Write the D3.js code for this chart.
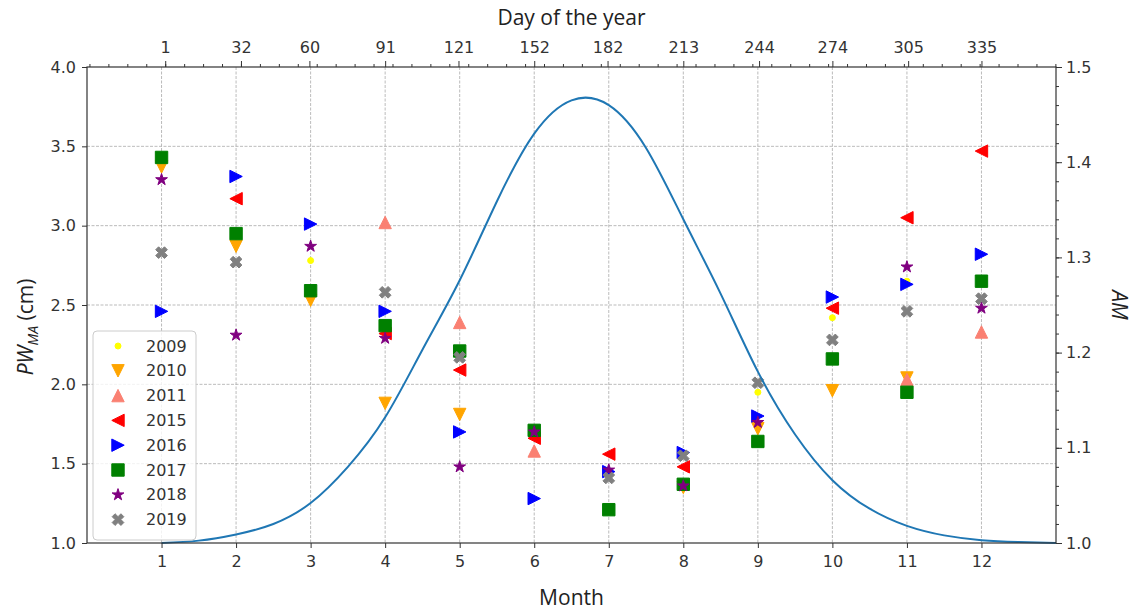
<!DOCTYPE html>
<html>
<head>
<meta charset="utf-8">
<script src="https://cdn.jsdelivr.net/npm/d3@7"></script>
<style>
  html, body { margin: 0; padding: 0; background: #fff; }
  svg { display: block; }
  .tick-label { font-family: "DejaVu Sans", sans-serif; font-size: 16px; fill: #333; }
  .axis-title { font-family: "Open Sans", sans-serif; font-size: 21px; fill: #222; }
</style>
</head>
<body>
<svg id="chart" width="1136" height="611"></svg>
<script>
// Monthly precipitable water (cm) per year; null = no observation
const months = [1, 2, 3, 4, 5, 6, 7, 8, 9, 10, 11, 12];
const years = ["2009", "2010", "2011", "2015", "2016", "2017", "2018", "2019"];
const pw2009 = [null, null, 2.78, null, null, null, null, null, 1.95, 2.42, 2.65, null];
const pw2010 = [3.37, 2.87, 2.53, 1.88, 1.81, null, null, 1.35, 1.72, 1.96, 2.04, null];
const pw2011 = [null, null, null, 3.02, 2.39, 1.58, null, null, null, null, 2.03, 2.33];
const pw2015 = [null, 3.17, null, 2.32, 2.09, 1.66, 1.56, 1.48, null, 2.48, 3.05, 3.47];
const pw2016 = [2.46, 3.31, 3.01, 2.46, 1.70, 1.28, 1.45, 1.57, 1.80, 2.55, 2.63, 2.82];
const pw2017 = [3.43, 2.95, 2.59, 2.37, 2.21, 1.71, 1.21, 1.37, 1.64, 2.16, 1.95, 2.65];
const pw2018 = [3.29, 2.31, 2.87, 2.29, 1.48, 1.70, 1.46, 1.36, 1.76, null, 2.74, 2.48];
const pw2019 = [2.83, 2.77, null, 2.58, 2.17, null, 1.41, 1.55, 2.01, 2.28, 2.46, 2.54];

// Air mass over the year (month position, AM)
const amMonth = [1, 1.5, 2, 2.5, 3, 3.5, 4, 4.5, 5, 5.5, 6, 6.5, 7, 7.5, 8, 8.5, 9, 9.5, 10, 10.5, 11, 11.5, 12, 12.5, 13];
const amValue = [1.000, 1.0025, 1.009, 1.020, 1.042, 1.080, 1.132, 1.203, 1.276, 1.359, 1.430, 1.465, 1.460, 1.415, 1.340, 1.262, 1.180, 1.114, 1.066, 1.036, 1.018, 1.008, 1.003, 1.001, 1.000];

// Tick labels
const dayTicks = [1, 32, 60, 91, 121, 152, 182, 213, 244, 274, 305, 335];
const pwTicks = [1.0, 1.5, 2.0, 2.5, 3.0, 3.5, 4.0];
const amTicks = [1.0, 1.1, 1.2, 1.3, 1.4, 1.5];

const seriesValues = [pw2009, pw2010, pw2011, pw2015, pw2016, pw2017, pw2018, pw2019];
const seriesColors = ["#ffff00", "#ffa500", "#fa8072", "#ff0000", "#0000ff", "#008000", "#800080", "#808080"];
const seriesMarkers = ["circle", "tdown", "tup", "tleft", "tright", "square", "star", "xfill"];

const svg = d3.select("#chart");
const L = 87, R = 1056, T = 67, B = 543;

const x = d3.scaleLinear().domain([0, 13]).range([L, R]);
const xDay = d3.scaleLinear().domain([-31, 365.5]).range([L, R]);
const y = d3.scaleLinear().domain([1, 4]).range([B, T]);
const yAM = d3.scaleLinear().domain([1, 1.5]).range([B, T]);

function markerPath(type, s) {
  const h = s / 2;
  switch (type) {
    case "circle": return d3.symbol(d3.symbolCircle, Math.PI * h * h)();
    case "tdown": return `M0,${h}L${-h},${-h}L${h},${-h}Z`;
    case "tup": return `M0,${-h}L${-h},${h}L${h},${h}Z`;
    case "tleft": return `M${-h},0L${h},${-h}L${h},${h}Z`;
    case "tright": return `M${h},0L${-h},${-h}L${-h},${h}Z`;
    case "square": return `M${-h},${-h}H${h}V${h}H${-h}Z`;
    case "star": {
      const pts = [];
      for (let i = 0; i < 10; i++) {
        const r = i % 2 === 0 ? h : h * 0.381966;
        const a = -Math.PI / 2 + i * Math.PI / 5;
        pts.push([r * Math.cos(a), r * Math.sin(a)]);
      }
      return "M" + pts.map(p => p.join(",")).join("L") + "Z";
    }
    case "xfill": {
      const base = [[-1, -3], [1, -3], [1, -1], [3, -1], [3, 1], [1, 1], [1, 3], [-1, 3], [-1, 1], [-3, 1], [-3, -1], [-1, -1]];
      const c = Math.SQRT1_2;
      const pts = base.map(([a, b]) => [(a - b) * c * s / 6, (a + b) * c * s / 6]);
      return "M" + pts.map(p => p.join(",")).join("L") + "Z";
    }
  }
}
function markerSize(type) { return type === "circle" ? 6 : 12.4; }

// Grid
const grid = svg.append("g");
grid.selectAll("line.vg").data(months).join("line")
  .attr("x1", d => x(d)).attr("x2", d => x(d)).attr("y1", T).attr("y2", B)
  .attr("stroke", "#aaaaaa").attr("stroke-width", 0.8).attr("stroke-dasharray", "3,1.5");
grid.selectAll("line.hg").data(pwTicks.slice(1, -1)).join("line")
  .attr("x1", L).attr("x2", R).attr("y1", d => y(d)).attr("y2", d => y(d))
  .attr("stroke", "#aaaaaa").attr("stroke-width", 0.8).attr("stroke-dasharray", "3,1.5");

// Scatter series, drawn in legend order
seriesValues.forEach((vals, i) => {
  const pts = months.map((m, j) => ({ m, v: vals[j] })).filter(d => d.v !== null);
  svg.append("g").selectAll("path").data(pts).join("path")
    .attr("transform", d => `translate(${x(d.m)},${y(d.v)})`)
    .attr("d", markerPath(seriesMarkers[i], markerSize(seriesMarkers[i])))
    .attr("fill", seriesColors[i]).attr("stroke", seriesColors[i]).attr("stroke-width", 1);
});

// Air mass curve on the secondary axis
const amData = amMonth.map((m, i) => ({ m, v: amValue[i] }));
svg.append("path").datum(amData)
  .attr("d", d3.line().x(d => x(d.m)).y(d => yAM(d.v)).curve(d3.curveNatural))
  .attr("fill", "none").attr("stroke", "#1f77b4").attr("stroke-width", 2);

// Axes
const axColor = "#333";
function styleAxis(g) {
  g.select(".domain").remove();
  g.selectAll(".tick line").attr("stroke", axColor).attr("stroke-width", 1);
  g.selectAll(".tick text").attr("class", "tick-label").attr("fill", null);
}
svg.append("g").attr("transform", `translate(0,${B})`)
  .call(d3.axisBottom(x).tickValues(months).tickFormat(d3.format("d")).tickSize(5).tickPadding(8))
  .call(styleAxis);
svg.append("g").attr("transform", `translate(${L},0)`)
  .call(d3.axisLeft(y).tickValues(pwTicks).tickFormat(d3.format(".1f")).tickSize(5).tickPadding(6))
  .call(styleAxis);
// Top: day of year, major + minor ticks
const dayMinor = d3.range(1 - 4 * 7.75, 366, 7.75);
svg.append("g").attr("transform", `translate(0,${T})`)
  .call(d3.axisTop(xDay).tickValues(dayMinor).tickFormat("").tickSize(3))
  .call(styleAxis);
svg.append("g").attr("transform", `translate(0,${T})`)
  .call(d3.axisTop(xDay).tickValues(dayTicks).tickFormat(d3.format("d")).tickSize(6).tickPadding(8))
  .call(styleAxis);
// Right: air mass, major + minor ticks
const amMinor = d3.range(1, 1.5001, 0.02);
svg.append("g").attr("transform", `translate(${R},0)`)
  .call(d3.axisRight(yAM).tickValues(amMinor).tickFormat("").tickSize(3))
  .call(styleAxis);
svg.append("g").attr("transform", `translate(${R},0)`)
  .call(d3.axisRight(yAM).tickValues(amTicks).tickFormat(d3.format(".1f")).tickSize(6).tickPadding(4))
  .call(styleAxis);

// Frame
svg.append("rect").attr("x", L).attr("y", T).attr("width", R - L).attr("height", B - T)
  .attr("fill", "none").attr("stroke", axColor).attr("stroke-width", 1.2);

// Titles
svg.append("text").attr("class", "axis-title").attr("x", (L + R) / 2).attr("y", 605)
  .attr("text-anchor", "middle").text("Month");
svg.append("text").attr("class", "axis-title").attr("x", (L + R) / 2).attr("y", 25)
  .attr("text-anchor", "middle").text("Day of the year");
const yl = svg.append("text").attr("class", "axis-title")
  .attr("transform", `translate(33,${(T + B) / 2 + 22}) rotate(-90)`).attr("text-anchor", "middle");
yl.append("tspan").attr("font-style", "italic").text("PW");
yl.append("tspan").attr("font-style", "italic").attr("font-size", 14).attr("dy", 5).text("MA");
yl.append("tspan").attr("dy", -5).text(" (cm)");
svg.append("text").attr("class", "axis-title")
  .attr("transform", `translate(1112,${(T + B) / 2}) rotate(90)`).attr("text-anchor", "middle")
  .attr("font-style", "italic").text("AM");

// Legend
const lg = svg.append("g");
lg.append("rect").attr("x", 93).attr("y", 331).attr("width", 103).attr("height", 209).attr("rx", 4)
  .attr("fill", "#fff").attr("fill-opacity", 0.8).attr("stroke", "#cccccc");
years.forEach((yr, i) => {
  const cy = 346 + i * 24.8;
  lg.append("path").attr("transform", `translate(118,${cy})`)
    .attr("d", markerPath(seriesMarkers[i], markerSize(seriesMarkers[i])))
    .attr("fill", seriesColors[i]).attr("stroke", seriesColors[i]).attr("stroke-width", 1);
  lg.append("text").attr("class", "tick-label").attr("x", 146).attr("y", cy)
    .attr("dominant-baseline", "central").text(yr);
});
</script>
</body>
</html>
